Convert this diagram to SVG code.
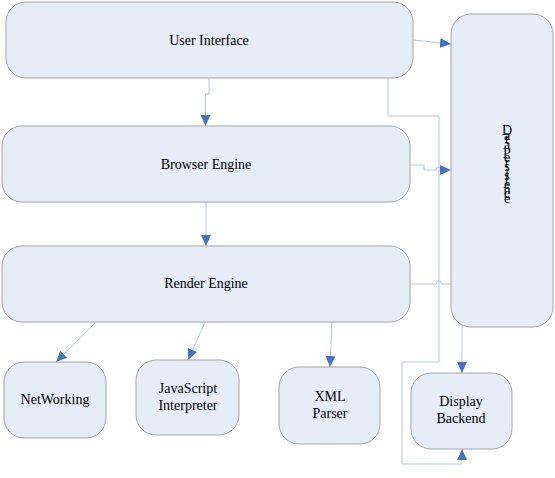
<svg xmlns="http://www.w3.org/2000/svg" width="555" height="478" viewBox="0 0 555 478">
<style>
.box{fill:#e6edf7;stroke:#a5a5a5;stroke-width:1}
.lbl{font-size:14px;fill:#000;text-anchor:middle}
.ln{fill:none;stroke:#b4c7e7;stroke-width:1}
</style>
<defs>
<marker id="ah" markerUnits="userSpaceOnUse" markerWidth="12" markerHeight="10" refX="11" refY="5" orient="auto">
<path d="M0,0 L11,5 L0,10 Z" fill="#4472c4"/>
</marker>
</defs>
<rect width="555" height="478" fill="#fff"/>
<g id="connectors">
<path class="ln" d="M209,78 V94 H205.5 V126" marker-end="url(#ah)"/>
<path class="ln" d="M413,40 L451,44" marker-end="url(#ah)"/>
<path class="ln" d="M388,78 V116 H439 V362 H402 V464 H462 V449" marker-end="url(#ah)"/>
<path class="ln" d="M410,165 H424 V170 H436 A3,3 0 0 1 442,170 H451" marker-end="url(#ah)"/>
<path class="ln" d="M410,284 H436 A3,3 0 0 1 442,284 H462 V373" marker-end="url(#ah)"/>
<path class="ln" d="M206,202 V246" marker-end="url(#ah)"/>
<path class="ln" d="M96,322 L56,362" marker-end="url(#ah)"/>
<path class="ln" d="M205,322 L188,360" marker-end="url(#ah)"/>
<path class="ln" d="M332,322 L330,367" marker-end="url(#ah)"/>
</g>
<g font-family="'Liberation Serif', 'DejaVu Serif', serif">
<g id="user-interface">
<rect class="box" x="6" y="2" width="407" height="76" rx="20"/>
<text class="lbl" x="209" y="45">User Interface</text>
</g>
<g id="browser-engine">
<rect class="box" x="2" y="126" width="408" height="76" rx="20"/>
<text class="lbl" x="206" y="169">Browser Engine</text>
</g>
<g id="render-engine">
<rect class="box" x="2" y="246" width="408" height="76" rx="20"/>
<text class="lbl" x="206" y="288">Render Engine</text>
</g>
<g id="data-persistence">
<rect class="box" x="451" y="14" width="102" height="313" rx="20"/>
<text class="lbl" x="507 507 507 507 507 507 507 507 507 507 507 507 507 507 507 507" y="135 139.5 144 148.5 153 157.5 162 166.5 171 175.5 180 184.5 189 193.5 198 202.5">Data Persistence</text>
</g>
<g id="networking">
<rect class="box" x="4" y="362" width="102" height="76" rx="20"/>
<text class="lbl" x="55" y="404">NetWorking</text>
</g>
<g id="javascript-interpreter">
<rect class="box" x="136" y="360" width="103" height="75" rx="20"/>
<text class="lbl" x="188" y="393">JavaScript</text>
<text class="lbl" x="188" y="410">Interpreter</text>
</g>
<g id="xml-parser">
<rect class="box" x="279" y="367" width="101" height="77" rx="20"/>
<text class="lbl" x="330" y="401">XML</text>
<text class="lbl" x="330" y="418">Parser</text>
</g>
<g id="display-backend">
<rect class="box" x="411" y="373" width="101" height="76" rx="20"/>
<text class="lbl" x="461" y="406">Display</text>
<text class="lbl" x="461" y="423">Backend</text>
</g>
</g>
</svg>
